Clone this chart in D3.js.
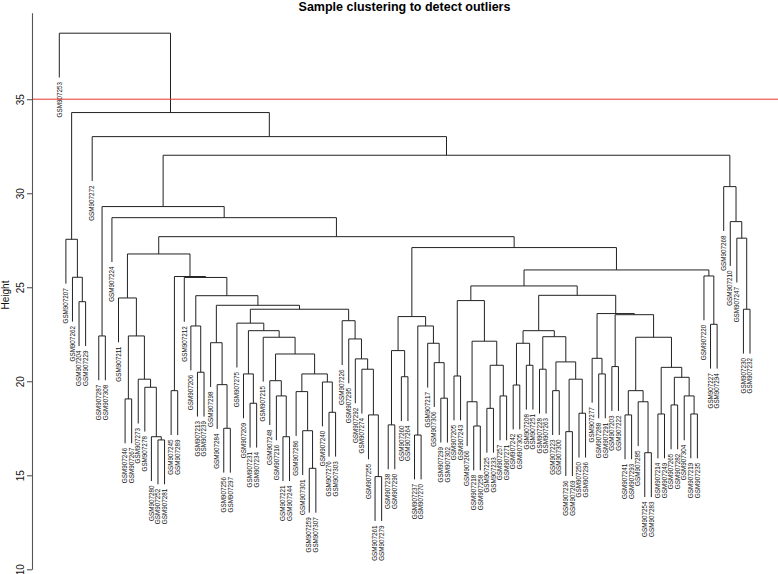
<!DOCTYPE html>
<html>
<head>
<meta charset="utf-8">
<script src="https://cdn.jsdelivr.net/npm/d3@7"></script>
<style>
  html, body { margin: 0; padding: 0; background: #fff; }
  svg { display: block; }
</style>
</head>
<body>
<svg id="chart" width="778" height="574"></svg>
<script>
// Leaf labels in dendrogram order (left to right)
const leafLabels = [
  "GSM907253","GSM907207","GSM907262","GSM907204","GSM907229","GSM907272","GSM907287","GSM907308",
  "GSM907224","GSM907211","GSM907246","GSM907267","GSM907273","GSM907278","GSM907280","GSM907252",
  "GSM907281","GSM907245","GSM907289","GSM907212","GSM907206","GSM907213","GSM907239","GSM907298",
  "GSM907284","GSM907256","GSM907297","GSM907275","GSM907209","GSM907231","GSM907234","GSM907215",
  "GSM907248","GSM907216","GSM907221","GSM907244","GSM907286","GSM907301","GSM907259","GSM907307",
  "GSM907240","GSM907276","GSM907303","GSM907226","GSM907295","GSM907292","GSM907274","GSM907255",
  "GSM907261","GSM907279","GSM907238","GSM907290","GSM907260","GSM907264","GSM907237","GSM907270",
  "GSM907217","GSM907306","GSM907299","GSM907302","GSM907205","GSM907243","GSM907266","GSM907218",
  "GSM907258","GSM907225","GSM907233","GSM907257","GSM907271","GSM907242","GSM907305","GSM907208",
  "GSM907251","GSM907228","GSM907263","GSM907223","GSM907300","GSM907236","GSM907269","GSM907250",
  "GSM907296","GSM907277","GSM907288","GSM907291","GSM907203","GSM907222","GSM907241","GSM907293",
  "GSM907285","GSM907254","GSM907283","GSM907214","GSM907249","GSM907265","GSM907282","GSM907304",
  "GSM907219","GSM907235","GSM907220","GSM907227","GSM907294","GSM907268","GSM907210","GSM907247",
  "GSM907230","GSM907232"
];

// Sub-clusters: [mergeHeight, left, right]; numbers are leaf positions (1-based)
const clusterLeft = [27.55, 2, [25.53, 3, [24.23, 4, 5]]];
const clusterRight = [30.35, 102, [28.49, 103, [27.61, 104, [23.83, 105, 106]]]];
const clusterG1 = [24.43, 10, [22.41, [19.06, 11, 12], [20.11, 13, [19.68, 14, [17.05, 15, [16.88, 16, 17]]]]]];
const clusterR4 = [23.09, 28, [22.69, [20.39, 29, [18.83, 30, 31]],
  [22.34, 32, [21.45, [20.03, 33, [19.22, 34, [17.05, 35, 36]]],
    [20.39, [19.45, 37, [17.37, 38, [15.37, 39, 40]]], [19.96, 41, [18.35, 42, 43]]]]]]];
const clusterR5 = [23.22, 44, [22.25, 45, [21.19, 46, [20.64, 47, [18.21, 48, [14.93, 49, 50]]]]]];
const clusterR = [24.55, [22.94, 21, [20.48, 22, 23]],
  [24.04, [22.05, 24, [19.82, 25, [17.50, 26, 27]]], [23.83, clusterR4, clusterR5]]];
const clusterG = [26.77, clusterG1, [25.57, [19.50, 18, 19], [25.52, 20, clusterR]]];
const clusterH1 = [23.44, [21.63, [17.68, 51, 52], [20.24, 53, 54]],
  [22.94, [17.14, 55, 56], [22.02, 57, [20.99, 58, [19.10, 59, 60]]]]];
const clusterK = [24.29, [20.28, 61, 62],
  [22.13, [18.91, 63, [17.62, 64, 65]], [20.85, [18.56, 66, 67], [19.22, 68, 69]]]];
const clusterL1 = [22.69, [22.02, [19.80, 70, 71], [20.85, 72, 73]],
  [22.37, [20.64, 74, 75], [21.03, [19.50, 76, 77], [20.11, [17.32, 78, 79], [18.30, 80, 81]]]]];
const clusterN1 = [23.54, [20.78, 85, 86],
  [22.34, [19.50, [18.21, 87, 88], [18.91, 89, [16.20, 90, 91]]],
    [20.74, [18.26, 92, 93], [20.21, [18.74, 94, 95], [19.22, 96, [18.26, 97, 98]]]]]];
const clusterN2 = [23.60, [21.22, 82, [20.39, 83, 84]], clusterN1];
const clusterI = [25.92, [25.07, clusterK, [24.57, clusterL1, clusterN2]], [25.60, 99, [23.03, 100, 101]]];
const clusterF = [27.69, clusterG, [27.11, clusterH1, clusterI]];
const clusterD = [29.29, [22.41, 7, 8], [28.70, 9, clusterF]];
const tree = [38.51, 1, [34.29, clusterLeft, [33.01, 6, [32.02, clusterD, clusterRight]]]];

const yTicks = [10, 15, 20, 25, 30, 35];
const cutHeight = 35;
const titleText = "Sample clustering to detect outliers";
const yLabel = "Height";

const svg = d3.select("#chart");
const font = "'Liberation Sans', Arial, Helvetica, sans-serif";

const x = d3.scaleLinear().domain([1, leafLabels.length]).range([59.3, 750]);
const y = d3.scaleLinear().domain([10, 39.6]).range([569.3, 12.7]);

const root = d3.hierarchy(tree, d => Array.isArray(d) ? [d[1], d[2]] : null);
root.eachAfter(n => {
  if (n.children) {
    n.h = n.data[0];
    n.x = (n.children[0].x + n.children[1].x) / 2;
  } else {
    n.x = x(n.data);
  }
});
const internal = root.descendants().filter(n => n.children);
const hMax = d3.max(internal, n => n.h), hMin = d3.min(internal, n => n.h);
const hang = 0.1 * (hMax - hMin);

// branches
const g = svg.append("g");
internal.forEach(n => {
  const [a, b] = n.children;
  const ya = a.children ? y(a.h) : y(n.h - hang);
  const yb = b.children ? y(b.h) : y(n.h - hang);
  const p = d3.path();
  p.moveTo(a.x, ya);
  p.lineTo(a.x, y(n.h));
  p.lineTo(b.x, y(n.h));
  p.lineTo(b.x, yb);
  g.append("path").attr("d", p.toString())
    .attr("fill", "none").attr("stroke", "#222").attr("stroke-width", 1);
});

// leaf labels
root.leaves().forEach(l => {
  const yEnd = y(l.parent.h - hang) + 4.5;
  svg.append("text")
    .attr("transform", `translate(${l.x},${yEnd}) rotate(-90)`)
    .attr("text-anchor", "end")
    .attr("dy", "0.35em")
    .attr("font-family", font)
    .attr("font-size", 6.3)
    .attr("fill", "#111")
    .text(leafLabels[l.data - 1]);
});

// cut line
svg.append("line")
  .attr("x1", 32).attr("x2", 778)
  .attr("y1", y(cutHeight)).attr("y2", y(cutHeight))
  .attr("stroke", "#e8332a").attr("stroke-width", 1);

// y axis
const axis = svg.append("g").attr("transform", "translate(32,0)")
  .call(d3.axisLeft(y).tickValues(yTicks).tickSize(5).tickSizeOuter(0).tickFormat(d3.format("d")));
axis.select(".domain").attr("stroke", "#555").attr("stroke-width", 1.1);
axis.selectAll(".tick line").attr("stroke", "#555").attr("stroke-width", 1.1);
axis.selectAll(".tick text")
  .attr("x", null).attr("dy", "0.35em")
  .attr("transform", "translate(-12,0) rotate(-90)")
  .attr("text-anchor", "middle")
  .attr("font-family", font).attr("font-size", 10).attr("fill", "#111");

// axis title
svg.append("text")
  .attr("transform", "translate(8.5,295) rotate(-90)")
  .attr("text-anchor", "middle")
  .attr("font-family", font).attr("font-size", 10).attr("fill", "#111")
  .text(yLabel);

// title
svg.append("text")
  .attr("x", 404.5).attr("y", 10.5)
  .attr("text-anchor", "middle")
  .attr("font-family", font).attr("font-size", 12.5).attr("font-weight", "bold")
  .attr("fill", "#000")
  .text(titleText);
</script>
</body>
</html>
